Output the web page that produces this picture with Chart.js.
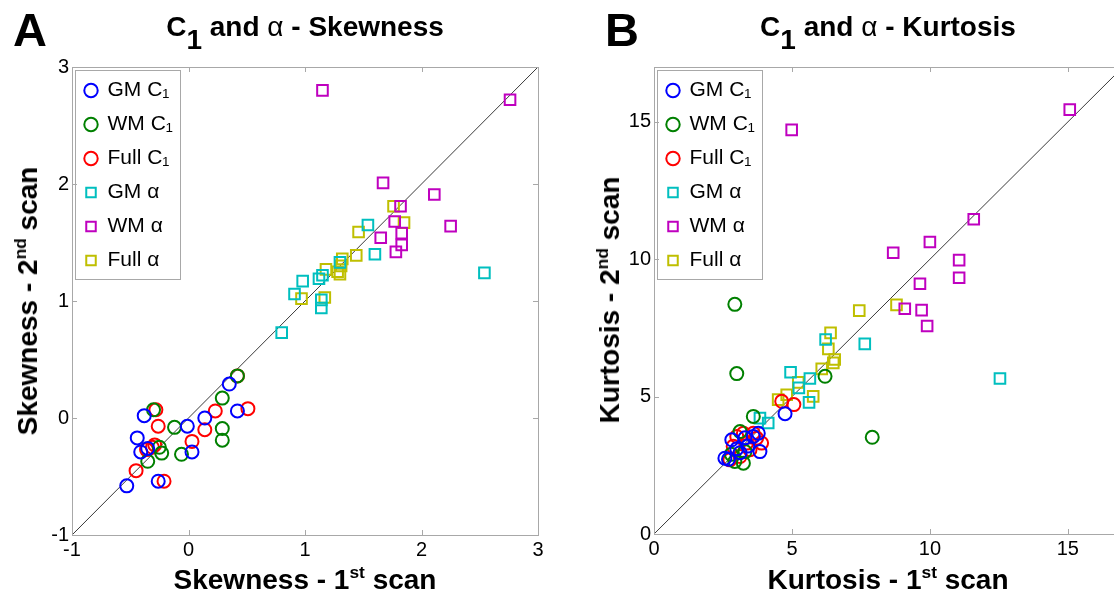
<!DOCTYPE html>
<html>
<head>
<meta charset="utf-8">
<title>C1 and alpha - Skewness / Kurtosis</title>
<script src="https://cdn.jsdelivr.net/npm/chart.js@4.4.1/dist/chart.umd.min.js"></script>
<style>
  html, body { margin: 0; padding: 0; background: #fff; }
  body {
    width: 1114px; height: 599px; overflow: hidden; position: relative;
    font-family: 'Liberation Sans', Arial, sans-serif; color: #000;
  }
  canvas { position: absolute; top: 0; }
  .txt {
    position: absolute; white-space: nowrap; font-weight: bold;
    font-size: 28px; line-height: 28px; transform: translate(-50%, -50%);
  }
  .ytitle { transform: translate(-50%, -50%) rotate(-90deg); }
  .panel { position: absolute; font-weight: bold; font-size: 47px; line-height: 47px; }
  .sub { position: relative; top: 0.45em; }
  .alpha { font-weight: normal; }
  sup { font-size: 0.62em; line-height: 0; vertical-align: 0.62em; }
</style>
</head>
<body>
<canvas id="skewChart" width="560" height="599" style="left:0"></canvas>
<canvas id="kurtChart" width="600" height="599" style="left:560px"></canvas>

<div class="panel" style="left:13px;top:6px">A</div>
<div class="txt" style="left:305px;top:27px">C<span class="sub">1</span> and <span class="alpha">α</span> - Skewness</div>
<div class="txt" style="left:305px;top:580px">Skewness - 1<sup>st</sup> scan</div>
<div class="txt ytitle" style="left:28px;top:301px">Skewness - 2<sup>nd</sup> scan</div>

<div class="panel" style="left:605px;top:6px">B</div>
<div class="txt" style="left:888px;top:27px">C<span class="sub">1</span> and <span class="alpha">α</span> - Kurtosis</div>
<div class="txt" style="left:888px;top:580px">Kurtosis - 1<sup>st</sup> scan</div>
<div class="txt ytitle" style="left:610px;top:300px">Kurtosis - 2<sup>nd</sup> scan</div>

<script>
// ---- series definitions ----
const seriesNames = ['GM C₁', 'WM C₁', 'Full C₁', 'GM α', 'WM α', 'Full α'];
const seriesColors = ['#0000ff', '#008000', '#ff0000', '#00bfbf', '#bf00bf', '#bfbf00'];
const seriesShapes = ['circle', 'circle', 'circle', 'rect', 'rect', 'rect'];

const skewTicks = [-1, 0, 1, 2, 3];
const kurtTicks = [0, 5, 10, 15];

// Skewness: [1st scan, 2nd scan]
const skewGmC1 = [[-0.53, -0.58], [-0.26, -0.54], [-0.44, -0.17], [-0.38, 0.02], [-0.41, -0.29],
  [-0.35, -0.26], [-0.01, -0.07], [0.03, -0.29], [0.14, 0.00], [0.35, 0.29], [0.42, 0.06]];
const skewWmC1 = [[-0.30, 0.07], [-0.35, -0.37], [-0.25, -0.25], [-0.23, -0.30], [-0.12, -0.08],
  [-0.06, -0.31], [0.29, 0.17], [0.29, -0.09], [0.29, -0.19], [0.42, 0.36]];
const skewFullC1 = [[-0.45, -0.45], [-0.36, -0.27], [-0.31, -0.25], [-0.29, -0.23], [-0.28, 0.07],
  [-0.26, -0.07], [-0.21, -0.54], [0.03, -0.20], [0.14, -0.10], [0.23, 0.06], [0.42, 0.36], [0.51, 0.08]];
const skewGmAlpha = [[2.54, 1.24], [1.54, 1.65], [1.60, 1.40], [1.30, 1.33], [1.12, 1.19], [1.15, 1.22],
  [0.98, 1.17], [0.91, 1.06], [1.14, 1.01], [1.14, 0.94], [0.80, 0.73]];
const skewWmAlpha = [[1.15, 2.80], [2.76, 2.72], [1.67, 2.01], [2.11, 1.91], [1.82, 1.81], [1.77, 1.68],
  [2.25, 1.64], [1.83, 1.58], [1.65, 1.54], [1.83, 1.48], [1.78, 1.42]];
const skewFullAlpha = [[1.76, 1.81], [1.85, 1.67], [1.46, 1.59], [1.44, 1.39], [1.32, 1.36], [1.31, 1.30],
  [1.30, 1.23], [1.18, 1.27], [0.97, 1.02], [1.17, 1.03], [1.28, 1.25]];

// Kurtosis: [1st scan, 2nd scan]
const kurtGmC1 = [[4.75, 4.38], [3.84, 3.00], [2.57, 2.76], [2.82, 3.43], [3.78, 3.67], [3.12, 2.96],
  [3.60, 3.55], [2.70, 2.72], [3.40, 3.20], [3.30, 3.50], [3.00, 3.10]];
const kurtWmC1 = [[2.93, 8.36], [3.00, 5.84], [7.91, 3.52], [6.20, 5.74], [3.60, 4.28], [2.93, 2.64],
  [3.24, 2.58], [3.12, 3.73], [3.30, 3.00], [2.80, 2.90]];
const kurtFullC1 = [[4.63, 4.83], [5.07, 4.71], [3.00, 3.55], [3.24, 3.67], [3.60, 3.67], [3.90, 3.31],
  [2.87, 3.19], [3.36, 3.31], [3.12, 2.82], [2.75, 2.70], [3.48, 3.07], [3.72, 3.49]];
const kurtGmAlpha = [[12.54, 5.66], [7.64, 6.92], [6.22, 7.08], [4.95, 5.89], [5.65, 5.66], [5.62, 4.79],
  [3.84, 4.22], [4.14, 4.04], [5.25, 5.32]];
const kurtWmAlpha = [[4.99, 14.71], [15.07, 15.45], [11.59, 11.46], [10.00, 10.63], [8.67, 10.24],
  [11.06, 9.97], [11.06, 9.33], [9.64, 9.11], [9.09, 8.20], [9.70, 8.15], [9.90, 7.57]];
const kurtFullAlpha = [[7.44, 8.13], [8.79, 8.34], [6.40, 7.32], [6.32, 6.74], [6.50, 6.23], [6.08, 6.01],
  [5.77, 5.01], [5.23, 5.52], [4.81, 5.07], [4.50, 4.89], [6.55, 6.35]];

Chart.defaults.font.family = "'Liberation Sans', Arial, sans-serif";
Chart.defaults.color = '#000';

const toPts = arr => arr.map(([x, y]) => ({ x, y }));

// box around the axes, inward tick marks and the legend frame (MATLAB look)
const framePlugin = {
  id: 'frame',
  // a vertical legend in the chart area gets top = 0, move it down to the plot
  afterLayout(chart) {
    const lg = chart.legend;
    if (!lg) return;
    const dy = chart.chartArea.top - lg.top;
    if (dy) {
      lg.top += dy;
      lg.bottom += dy;
      (lg.legendHitBoxes || []).forEach(b => { b.top += dy; });
    }
  },
  afterDraw(chart) {
    const { ctx, chartArea: a, scales } = chart;
    const len = 5;
    ctx.save();
    ctx.strokeStyle = '#a8a8a8';
    ctx.lineWidth = 1;
    ctx.strokeRect(Math.round(a.left) + 0.5, Math.round(a.top) + 0.5, Math.round(a.width), Math.round(a.height));

    ctx.beginPath();
    scales.x.ticks.forEach(t => {
      if (t.value <= scales.x.min || t.value >= scales.x.max) return;
      const px = Math.round(scales.x.getPixelForValue(t.value)) + 0.5;
      ctx.moveTo(px, a.bottom); ctx.lineTo(px, a.bottom - len);
      ctx.moveTo(px, a.top); ctx.lineTo(px, a.top + len);
    });
    scales.y.ticks.forEach(t => {
      if (t.value <= scales.y.min || t.value >= scales.y.max) return;
      const py = Math.round(scales.y.getPixelForValue(t.value)) + 0.5;
      ctx.moveTo(a.left, py); ctx.lineTo(a.left + len, py);
      ctx.moveTo(a.right, py); ctx.lineTo(a.right - len, py);
    });
    ctx.stroke();

    const hb = chart.legend && chart.legend.legendHitBoxes;
    if (hb && hb.length) {
      const right = Math.max(...hb.map(b => b.left + b.width)) + 8;
      const last = hb[hb.length - 1];
      const bottom = last.top + last.height + 8;
      const x0 = Math.round(a.left) + 3.5, y0 = Math.round(a.top) + 3.5;
      ctx.strokeRect(x0, y0, Math.round(right - x0), Math.round(bottom - y0));
    }
    ctx.restore();
  }
};

function makeChart(id, series, lo, hi, ticks, geo) {
  const datasets = series.map((pts, i) => ({
    label: seriesNames[i],
    data: toPts(pts),
    pointStyle: seriesShapes[i],
    pointRadius: seriesShapes[i] === 'circle' ? 6.5 : 7.5,
    borderColor: seriesColors[i],
    backgroundColor: 'rgba(0,0,0,0)',
    borderWidth: 2,
  }));
  // line of identity
  datasets.push({
    type: 'line',
    label: 'identity',
    data: [{ x: lo, y: lo }, { x: hi, y: hi }],
    borderColor: '#3a3a3a',
    borderWidth: 1,
    pointRadius: 0,
    order: 10,
  });

  const axis = fit => ({
    type: 'linear',
    min: lo,
    max: hi,
    afterBuildTicks: s => { s.ticks = ticks.map(v => ({ value: v })); },
    ticks: { color: '#000', font: { size: 20 }, padding: 3 },
    grid: { display: false, drawTicks: false },
    border: { display: false },
    afterFit: fit,
  });

  return new Chart(document.getElementById(id), {
    type: 'scatter',
    data: { datasets },
    options: {
      responsive: false,
      animation: false,
      devicePixelRatio: 1,
      layout: { padding: { top: 67, right: geo.right, left: 0, bottom: 0 } },
      scales: {
        x: axis(s => { s.height = geo.bottom; }),
        y: axis(s => { s.width = geo.left; }),
      },
      plugins: {
        legend: {
          position: 'chartArea',
          align: 'start',
          labels: {
            usePointStyle: true,
            boxWidth: 12,
            boxHeight: 9.5,
            padding: 13,
            color: '#000',
            font: { size: 21 },
            filter: item => item.datasetIndex < seriesNames.length,
          },
        },
        tooltip: { enabled: false },
      },
    },
    plugins: [framePlugin],
  });
}

makeChart('skewChart',
  [skewGmC1, skewWmC1, skewFullC1, skewGmAlpha, skewWmAlpha, skewFullAlpha],
  -1, 3, skewTicks, { left: 72, right: 22, bottom: 64 });

makeChart('kurtChart',
  [kurtGmC1, kurtWmC1, kurtFullC1, kurtGmAlpha, kurtWmAlpha, kurtFullAlpha],
  0, 17, kurtTicks, { left: 94, right: 37, bottom: 65 });
</script>
</body>
</html>
